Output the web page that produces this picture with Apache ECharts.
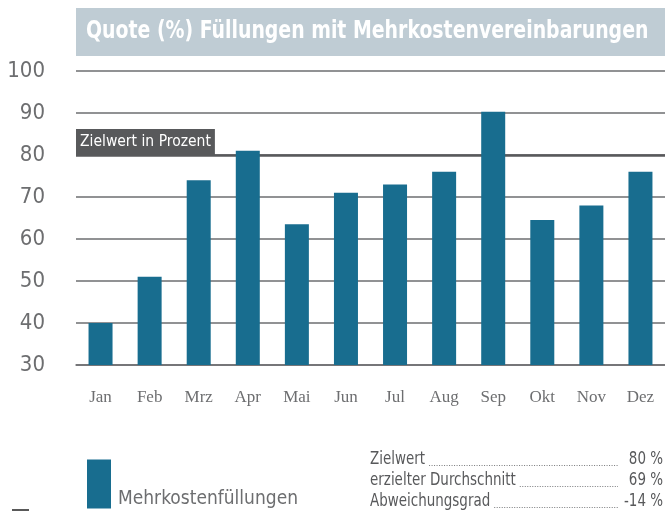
<!DOCTYPE html>
<html>
<head>
<meta charset="utf-8">
<script src="https://cdn.jsdelivr.net/npm/echarts@6/dist/echarts.min.js"></script>
<style>
  html, body { margin: 0; padding: 0; background: #fff; }
  #chart { width: 665px; height: 513px; }
</style>
</head>
<body>
<div id="chart"></div>
<script>
const months = ["Jan", "Feb", "Mrz", "Apr", "Mai", "Jun", "Jul", "Aug", "Sep", "Okt", "Nov", "Dez"];
const values = [40, 51, 74, 81, 63.5, 71, 73, 76, 90.3, 64.5, 68, 76];
const target = 80;
const summaryLabels = ["Zielwert", "erzielter Durchschnitt", "Abweichungsgrad"];
const summaryValues = ["80 %", "69 %", "-14 %"];

const narrow = "'DejaVu Sans Condensed', 'Liberation Sans Narrow', sans-serif";
const grey = "#6d6e70";
const dark = "#58595b";
const blue = "#186d8f";

// leader dots for the little table, measured against the label widths
const ctx = document.createElement("canvas").getContext("2d");
const tableFont = "17px " + narrow;
const sx = 0.88;
ctx.font = tableFont;
const tableX = 370, leaderEnd = 618, valueX = 663;
const rows = [];
summaryLabels.forEach((lab, i) => {
  const y = 459.5 + i * 21;
  const w = ctx.measureText(lab).width * sx;
  rows.push({
    type: "text", x: tableX, y: y, scaleX: sx,
    style: { text: lab, font: tableFont, fill: dark, verticalAlign: "middle" }
  });
  rows.push({
    type: "line",
    shape: { x1: tableX + w + 4, y1: y + 6, x2: leaderEnd, y2: y + 6 },
    style: { stroke: "#7a7b7d", lineWidth: 1, lineDash: [1, 1.5] }
  });
  rows.push({
    type: "text", x: valueX, y: y, scaleX: sx,
    style: { text: summaryValues[i], font: tableFont, fill: dark, align: "right", verticalAlign: "middle" }
  });
});

const chart = echarts.init(document.getElementById("chart"));
chart.setOption({
  animation: false,
  grid: { left: 76, right: 0, top: 71, bottom: 148 },
  graphic: [
    { type: "rect", shape: { x: 76, y: 8, width: 589, height: 48 }, style: { fill: "#bfccd4" }, z: 0 },
    {
      type: "text", x: 86, y: 32, scaleX: 0.875,
      style: {
        text: "Quote (%) Füllungen mit Mehrkostenvereinbarungen",
        font: "bold 24px " + narrow, fill: "#fff", verticalAlign: "middle"
      }
    },
    { type: "line", shape: { x1: 12, y1: 510, x2: 29, y2: 510 }, style: { stroke: "#222", lineWidth: 1.5 } }
  ].concat(rows),
  legend: {
    left: 87, top: 454, padding: 0,
    itemWidth: 24, itemHeight: 49, itemGap: 4,
    icon: "rect",
    formatter: (name) => "\n" + name,
    textStyle: { fontFamily: narrow, fontSize: 19, color: grey, lineHeight: 30, padding: [0, 0, 0, 2] },
    data: ["Mehrkostenfüllungen"]
  },
  xAxis: {
    type: "category",
    data: months,
    axisLine: { lineStyle: { color: grey, width: 1.5 } },
    axisTick: { show: false },
    axisLabel: { fontFamily: "'Liberation Serif', serif", fontSize: 17, color: grey, margin: 24 }
  },
  yAxis: {
    type: "value",
    min: 30, max: 100, interval: 10,
    axisLine: { show: false },
    axisTick: { show: false },
    splitLine: { lineStyle: { color: grey, width: 1.5 } },
    axisLabel: { fontFamily: narrow, fontSize: 22, color: grey, margin: 31 }
  },
  series: [{
    name: "Mehrkostenfüllungen",
    type: "bar",
    data: values,
    barWidth: 24,
    itemStyle: { color: blue },
    markLine: {
      silent: true,
      symbol: "none",
      z: 1,
      lineStyle: { color: dark, width: 2.5, type: "solid" },
      label: {
        position: "insideStartTop",
        distance: 0,
        formatter: "Zielwert in Prozent",
        backgroundColor: dark,
        color: "#fff",
        fontFamily: narrow,
        fontSize: 15.5,
        padding: [5, 4, 5, 4]
      },
      data: [{ yAxis: target }]
    }
  }]
});
</script>
</body>
</html>
